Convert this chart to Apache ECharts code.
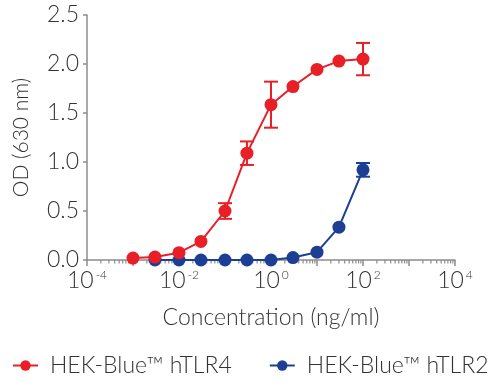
<!DOCTYPE html>
<html>
<head>
<meta charset="utf-8">
<script src="https://cdn.jsdelivr.net/npm/echarts@6/dist/echarts.min.js"></script>
<style>
html,body{margin:0;padding:0;background:#fff;}
#chart{width:500px;height:389px;}
</style>
</head>
<body>
<div id="chart"></div>
<script>
// ---- data ----
const tlr4Conc = [0.001, 0.003, 0.01, 0.03, 0.1, 0.3, 1, 3, 10, 30, 100];
const tlr4OD   = [0.02, 0.03, 0.075, 0.19, 0.50, 1.09, 1.585, 1.77, 1.945, 2.03, 2.05];
const tlr4Err  = [0, 0, 0, 0, 0.08, 0.12, 0.235, 0, 0, 0, 0.165];

const tlr2Conc = [0.003, 0.01, 0.03, 0.1, 0.3, 1, 3, 10, 30, 100];
const tlr2OD   = [0.0, 0.0, 0.0, 0.0, 0.0, 0.0, 0.025, 0.08, 0.335, 0.92];
const tlr2Err  = [0, 0, 0, 0, 0, 0, 0, 0, 0, 0.07];

const seriesNames = ['HEK-Blue\u2122 hTLR4', 'HEK-Blue\u2122 hTLR2'];
const xTitle = 'Concentration (ng/ml)';
const yTitle = 'OD (630 nm)';
const xMin = 1e-4, xMax = 1e4;

// minor tick positions (axis decoration): 2..9 x 10^n
const minorTicks = [];
for (let e = -4; e < 4; e++) {
  for (let k = 2; k <= 9; k++) minorTicks.push(k * Math.pow(10, e));
}

const RED = '#e81f27';
const BLUE = '#1c3f94';
const AXIS = '#8c8c8c';
const TXT = '#333333';
const FONT = 'Lato';
const FS = 23;

function errData(conc, od, err) {
  const out = [];
  for (let i = 0; i < conc.length; i++) {
    if (err[i] > 0) out.push([conc[i], od[i] - err[i], od[i] + err[i]]);
  }
  return out;
}

function errRender(color) {
  return function (params, api) {
    const lo = api.coord([api.value(0), api.value(1)]);
    const hi = api.coord([api.value(0), api.value(2)]);
    const w = 7;
    const st = { stroke: color, lineWidth: 2 };
    return {
      type: 'group',
      children: [
        { type: 'line', shape: { x1: lo[0], y1: lo[1], x2: hi[0], y2: hi[1] }, style: st },
        { type: 'line', shape: { x1: lo[0] - w, y1: lo[1], x2: lo[0] + w, y2: lo[1] }, style: st },
        { type: 'line', shape: { x1: hi[0] - w, y1: hi[1], x2: hi[0] + w, y2: hi[1] }, style: st }
      ]
    };
  };
}

const chart = echarts.init(document.getElementById('chart'), null, { renderer: 'canvas' });
chart.setOption({
  animation: false,
  textStyle: { fontFamily: FONT, fontWeight: 300, color: TXT },
  grid: { left: 87, top: 15, width: 368, height: 245, containLabel: false },
  legend: {
    data: seriesNames,
    left: 7,
    top: 349,
    itemWidth: 25,
    itemHeight: 13,
    itemGap: 37,
    textStyle: { fontFamily: FONT, fontWeight: 300, fontSize: FS, color: TXT, padding: [0, 0, 0, 7] }
  },
  xAxis: {
    type: 'log',
    logBase: 10,
    min: xMin,
    max: xMax,
    name: xTitle,
    nameLocation: 'middle',
    nameGap: 46,
    nameTextStyle: { fontFamily: FONT, fontWeight: 300, fontSize: FS, color: TXT },
    axisLine: { lineStyle: { color: AXIS, width: 1.5 } },
    axisTick: { show: true, length: 6, lineStyle: { color: AXIS, width: 1.5 } },
    splitLine: { show: false },
    axisLabel: {
      margin: 9,
      color: TXT,
      formatter: function (v) {
        const e = Math.round(Math.log10(v));
        if (e % 2 !== 0) return '';
        return '{b|10}{s|' + e + '}';
      },
      rich: {
        b: { fontFamily: FONT, fontWeight: 300, fontSize: FS, color: TXT },
        s: { fontFamily: FONT, fontWeight: 300, fontSize: 12, color: TXT, padding: [0, 0, 10, 2] }
      }
    }
  },
  yAxis: {
    type: 'value',
    min: 0,
    max: 2.5,
    interval: 0.5,
    name: yTitle,
    nameLocation: 'middle',
    nameGap: 55,
    nameTextStyle: { fontFamily: FONT, fontWeight: 300, fontSize: 21, color: TXT },
    axisLine: { show: true, lineStyle: { color: AXIS, width: 1.5 } },
    axisTick: { show: true, length: 4, lineStyle: { color: AXIS, width: 1.5 } },
    splitLine: { show: false },
    axisLabel: {
      margin: 8,
      fontFamily: FONT, fontWeight: 300, fontSize: FS, color: TXT,
      formatter: function (v) { return v.toFixed(1); }
    }
  },
  series: [
    {
      type: 'custom',
      silent: true,
      clip: false,
      data: minorTicks.map(v => [v]),
      renderItem: function (params, api) {
        const p = api.coord([api.value(0), 0]);
        return { type: 'line', shape: { x1: p[0], y1: p[1], x2: p[0], y2: p[1] + 3.5 },
                 style: { stroke: AXIS, lineWidth: 1.2 } };
      },
      z: 1
    },
    {
      name: seriesNames[1],
      type: 'line',
      data: tlr2Conc.map((c, i) => [c, tlr2OD[i]]),
      symbol: 'circle',
      symbolSize: 13,
      lineStyle: { color: BLUE, width: 2 },
      itemStyle: { color: BLUE },
      z: 3
    },
    {
      type: 'custom',
      silent: true,
      data: errData(tlr2Conc, tlr2OD, tlr2Err),
      renderItem: errRender(BLUE),
      z: 3
    },
    {
      name: seriesNames[0],
      type: 'line',
      data: tlr4Conc.map((c, i) => [c, tlr4OD[i]]),
      symbol: 'circle',
      symbolSize: 13,
      lineStyle: { color: RED, width: 2 },
      itemStyle: { color: RED },
      z: 4
    },
    {
      type: 'custom',
      silent: true,
      data: errData(tlr4Conc, tlr4OD, tlr4Err),
      renderItem: errRender(RED),
      z: 4
    }
  ]
});
</script>
</body>
</html>
